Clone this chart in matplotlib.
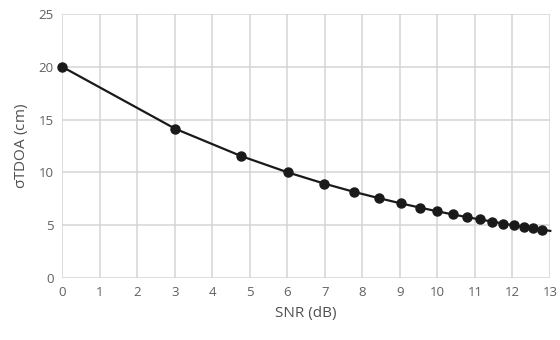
import matplotlib
matplotlib.use("Agg")
import matplotlib.pyplot as plt

# Values
snr_db = [0.00, 3.01, 4.77, 6.02, 6.99, 7.78, 8.45, 9.03, 9.54, 10.00,
          10.41, 10.79, 11.14, 11.46, 11.76, 12.04, 12.30, 12.55, 12.79, 13.01]
sigma_tdoa = [20.00, 14.14, 11.55, 10.00, 8.94, 8.16, 7.56, 7.07, 6.67, 6.32,
              6.03, 5.77, 5.55, 5.35, 5.16, 5.00, 4.85, 4.71, 4.59, 4.47]
x_ticks = list(range(0, 14))
y_ticks = [0, 5, 10, 15, 20, 25]

plt.rcParams['font.family'] = ['Open Sans', 'DejaVu Sans']

fig = plt.figure(figsize=(5.6, 3.4), dpi=100)
ax = fig.add_axes([0.111, 0.182, 0.871, 0.777])

# line through all points, markers on all but the last one
ax.plot(snr_db, sigma_tdoa, color='#1a1a1a', lw=1.6, zorder=3, clip_on=False)
ax.plot(snr_db[:-1], sigma_tdoa[:-1], 'o', color='#1a1a1a', ms=6.5,
        zorder=4, clip_on=False)

ax.set_xlim(0, 13)
ax.set_ylim(0, 25)
ax.set_xticks(x_ticks)
ax.set_yticks(y_ticks)
ax.grid(True, color='#d4d4d4', lw=1.1)
ax.set_axisbelow(True)
for s in ax.spines.values():
    s.set_visible(False)
ax.tick_params(length=0, labelsize=9.5, colors='#606060', pad=6)

ax.set_xlabel('SNR (dB)', fontsize=11, color='#505050', labelpad=5)
ax.set_ylabel(r'$\mathregular{\sigma}$TDOA (cm)', fontsize=11, color='#505050',
              labelpad=6)

fig.savefig('out.png', dpi=100)
